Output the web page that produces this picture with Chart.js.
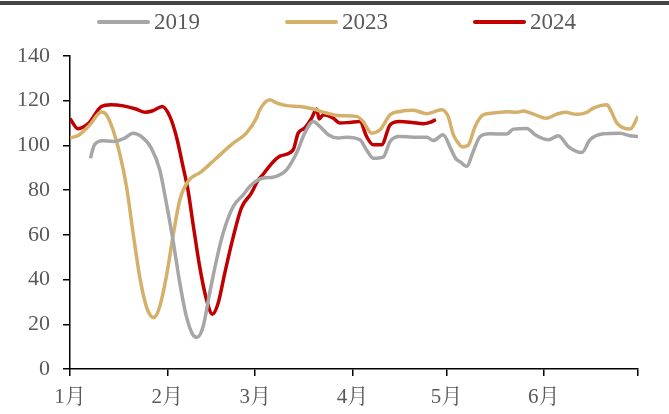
<!DOCTYPE html>
<html>
<head>
<meta charset="utf-8">
<script src="https://cdn.jsdelivr.net/npm/chart.js@4.4.1/dist/chart.umd.min.js"></script>
<style>
  body { margin: 0; background: #fff; }
  #wrap { position: relative; width: 669px; height: 414px; }
  #topRule { position: absolute; left: 0; top: 1px; width: 669px; height: 4px; background: #454545; }
</style>
</head>
<body>
<div id="wrap">
  <canvas id="seasonChart" width="669" height="414"></canvas>
  <div id="topRule"></div>
</div>
<script>
// x = day of year (0 = Jan 1)
const monthStarts = [0, 31, 59, 90, 120, 151, 181];
const monthLabels = ['1月', '2月', '3月', '4月', '5月', '6月', ''];

const days2019 = [6.5, 7.8, 10.5, 13.7, 17.4, 20.1, 22.7, 25.9, 28.6, 30.7, 32.8, 35, 37.1, 39.2, 40.5, 42.4, 44.5, 46.7, 48.8, 52, 55.2, 57.5, 61.5, 64.7, 66.9, 69, 72.2, 74.8, 77.5, 79.6, 82.3, 85.5, 88.1, 92.4, 94.5, 96.6, 99.8, 102, 105, 109.4, 113.7, 115.8, 118.9, 121.5, 123, 124.5, 126.4, 128.5, 130.7, 133.8, 139.2, 141.3, 145.6, 148.2, 152.5, 155.6, 158.8, 163.1, 165.7, 170, 175.3, 178.5, 181];
const values2019 = [94.3, 100.3, 102.1, 101.8, 103.3, 105.5, 104, 98.8, 89.1, 74.2, 57.8, 38.4, 23.4, 15.2, 14.2, 18.9, 33.9, 48.8, 60.8, 72.7, 77.9, 82, 85.4, 85.8, 86.9, 89.1, 96.6, 105.5, 110.7, 108.5, 104.8, 103.3, 103.7, 102.5, 98, 94.3, 94.8, 101.8, 104, 103.7, 103.7, 102.2, 104.8, 98, 94, 92.5, 90.6, 97.3, 104, 105.2, 105.1, 107.3, 107.6, 104.8, 102.5, 104.3, 99.5, 96.8, 102.5, 105.2, 105.5, 104.3, 104];

const days2023 = [0, 3, 6.3, 10, 11.6, 13.7, 15.8, 18, 20.1, 22.2, 24.5, 26.7, 28.6, 30.7, 32.8, 35, 37.6, 41.9, 46.1, 52, 56.2, 59.4, 60.5, 63.7, 65.8, 69, 73.2, 77.5, 81.7, 86, 91.3, 93.4, 96.1, 98.8, 102, 105.1, 109.4, 113.7, 116.3, 118.4, 120.5, 122.1, 123.5, 125, 127, 129.1, 131.7, 134.9, 139.2, 142.4, 144.5, 147.7, 151.9, 155.1, 157.8, 161.5, 164.7, 166.8, 171.1, 172.2, 174.3, 178.5, 181];
const values2023 = [103.3, 104.8, 109.2, 114.9, 113.7, 107, 96.6, 81.6, 60.8, 41.3, 27.2, 23, 27.9, 41.3, 59.2, 75.7, 83.9, 88.3, 93.6, 101, 105.5, 112.2, 116, 120.4, 119, 117.8, 117.4, 116.3, 114.5, 113.3, 113, 110.7, 105.5, 107, 113.7, 115.2, 115.7, 114.2, 115.2, 116, 113, 105, 101.5, 99.3, 100.3, 108.5, 113.7, 114.5, 115.1, 114.8, 115.4, 114, 112.2, 114, 114.8, 113.9, 114.8, 116.7, 118.2, 116, 110, 107.3, 113];

const days2024 = [0, 2.5, 6, 10, 13, 17, 21, 24, 26.4, 29.4, 31.8, 33.9, 36, 37.6, 39.2, 41.3, 43.5, 45.4, 47.2, 49.3, 52, 54.6, 57.8, 60, 61.5, 63.7, 66.9, 71.1, 72.7, 74.8, 77, 78.6, 79.4, 80.7, 83.9, 86, 89.2, 92.4, 94.5, 96.6, 99.3, 102, 105, 109, 112.6, 114.7, 116.6];
const values2024 = [112, 107.5, 110, 117.4, 118.2, 117.7, 116.3, 114.8, 115.5, 117.4, 113, 104, 90.6, 80, 65, 46, 31, 24.5, 29.4, 42.8, 59, 72, 78.7, 84.6, 87, 91, 95.2, 98, 105.5, 107.8, 112.2, 116.3, 111.8, 113.7, 112.2, 110, 110.3, 110.7, 104, 100.3, 100.3, 109.2, 110.7, 110.3, 109.7, 110.3, 111.5];

const serif = '"Liberation Serif", "Times New Roman", "Noto Serif CJK SC", "Noto Sans CJK SC", serif';
const textColor = '#595959';

function toPoints(xs, ys) {
    return xs.map((x, i) => ({ x: x, y: ys[i] }));
}

function series(label, xs, ys, color) {
    return {
        label: label,
        data: toPoints(xs, ys),
        borderColor: color,
        backgroundColor: color,
        borderWidth: 3.5,
        pointRadius: 0,
        cubicInterpolationMode: 'monotone',
        fill: false
    };
}

// legend drawn as short line samples across the top
const lineLegend = {
    id: 'lineLegend',
    afterDraw(chart) {
        const ctx = chart.ctx;
        ctx.save();
        ctx.font = '23px ' + serif;
        ctx.textBaseline = 'middle';
        chart.data.datasets.forEach((ds, i) => {
            const x = 97 + i * 188;
            ctx.strokeStyle = ds.borderColor;
            ctx.lineWidth = 4;
            ctx.lineCap = 'round';
            ctx.beginPath();
            ctx.moveTo(x + 2, 22);
            ctx.lineTo(x + 51, 22);
            ctx.stroke();
            ctx.fillStyle = textColor;
            ctx.fillText(ds.label, x + 57, 23);
        });
        ctx.restore();
    }
};

const seasonCanvas = document.getElementById('seasonChart').getContext('2d');

const seasonChart = new Chart(seasonCanvas, {
    type: 'line',
    data: {
        datasets: [
            series('2019', days2019, values2019, '#A6A6A6'),
            series('2023', days2023, values2023, '#D5B06B'),
            series('2024', days2024, values2024, '#C00000')
        ]
    },
    options: {
        responsive: false,
        animation: false,
        layout: {
            padding: { top: 56, right: 31, bottom: 0, left: 0 }
        },
        plugins: {
            legend: { display: false },
            tooltip: { enabled: false }
        },
        scales: {
            x: {
                type: 'linear',
                min: 0,
                max: 181,
                afterBuildTicks: axis => {
                    axis.ticks = monthStarts.map(v => ({ value: v }));
                },
                afterFit: scale => { scale.height = 45; },
                grid: { drawOnChartArea: false, drawTicks: true, tickLength: 7, color: '#000', lineWidth: 1.5 },
                border: { display: true, color: '#000', width: 1.5 },
                ticks: {
                    autoSkip: false,
                    maxRotation: 0,
                    padding: 9,
                    color: textColor,
                    font: { family: serif, size: 21 },
                    callback: value => monthLabels[monthStarts.indexOf(value)]
                }
            },
            y: {
                min: 0,
                max: 140,
                afterFit: scale => { scale.width = 70; },
                grid: { drawOnChartArea: false, drawTicks: true, tickLength: 7, color: '#000', lineWidth: 1.5 },
                border: { display: true, color: '#000', width: 1.5 },
                ticks: {
                    stepSize: 20,
                    padding: 13,
                    color: textColor,
                    font: { family: serif, size: 22 }
                }
            }
        }
    },
    plugins: [lineLegend]
});
</script>
</body>
</html>
